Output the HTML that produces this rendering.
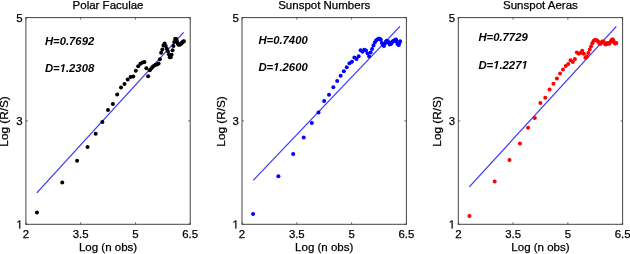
<!DOCTYPE html><html><head><meta charset="utf-8"><style>html,body{margin:0;padding:0;background:#fff;overflow:hidden}svg{display:block;will-change:transform}text{font-family:"Liberation Sans",sans-serif;stroke:#000;stroke-width:0.25px}</style></head><body>
<svg width="630" height="254" viewBox="0 0 630 254">
<rect width="630" height="254" fill="#fff"/>
<line x1="36.8" y1="192.8" x2="183.6" y2="32.4" stroke="#3535ff" stroke-width="1.2"/>
<circle cx="36.95" cy="212.60" r="2.0" fill="#000"/>
<circle cx="62.26" cy="182.60" r="2.0" fill="#000"/>
<circle cx="77.06" cy="160.80" r="2.0" fill="#000"/>
<circle cx="87.56" cy="147.00" r="2.0" fill="#000"/>
<circle cx="95.71" cy="133.80" r="2.0" fill="#000"/>
<circle cx="102.37" cy="122.10" r="2.0" fill="#000"/>
<circle cx="108.00" cy="110.10" r="2.0" fill="#000"/>
<circle cx="112.87" cy="104.10" r="2.0" fill="#000"/>
<circle cx="117.17" cy="94.50" r="2.0" fill="#000"/>
<circle cx="121.02" cy="87.60" r="2.0" fill="#000"/>
<circle cx="124.50" cy="83.90" r="2.0" fill="#000"/>
<circle cx="127.67" cy="79.50" r="2.0" fill="#000"/>
<circle cx="130.60" cy="76.90" r="2.0" fill="#000"/>
<circle cx="133.30" cy="76.40" r="2.0" fill="#000"/>
<circle cx="135.82" cy="70.80" r="2.0" fill="#000"/>
<circle cx="138.18" cy="66.20" r="2.0" fill="#000"/>
<circle cx="140.39" cy="63.70" r="2.0" fill="#000"/>
<circle cx="142.48" cy="62.50" r="2.0" fill="#000"/>
<circle cx="144.45" cy="62.00" r="2.0" fill="#000"/>
<circle cx="146.33" cy="68.20" r="2.0" fill="#000"/>
<circle cx="148.11" cy="76.30" r="2.0" fill="#000"/>
<circle cx="149.81" cy="70.20" r="2.0" fill="#000"/>
<circle cx="151.43" cy="68.20" r="2.0" fill="#000"/>
<circle cx="152.98" cy="66.40" r="2.0" fill="#000"/>
<circle cx="154.47" cy="65.40" r="2.0" fill="#000"/>
<circle cx="155.90" cy="64.70" r="2.0" fill="#000"/>
<circle cx="157.28" cy="64.20" r="2.0" fill="#000"/>
<circle cx="158.61" cy="63.40" r="2.0" fill="#000"/>
<circle cx="159.89" cy="59.30" r="2.0" fill="#000"/>
<circle cx="161.13" cy="52.80" r="2.0" fill="#000"/>
<circle cx="162.33" cy="49.60" r="2.0" fill="#000"/>
<circle cx="163.49" cy="45.40" r="2.0" fill="#000"/>
<circle cx="164.61" cy="43.40" r="2.0" fill="#000"/>
<circle cx="165.70" cy="45.90" r="2.0" fill="#000"/>
<circle cx="166.76" cy="48.80" r="2.0" fill="#000"/>
<circle cx="167.79" cy="51.30" r="2.0" fill="#000"/>
<circle cx="168.79" cy="54.20" r="2.0" fill="#000"/>
<circle cx="169.76" cy="57.20" r="2.0" fill="#000"/>
<circle cx="170.71" cy="57.20" r="2.0" fill="#000"/>
<circle cx="171.63" cy="54.70" r="2.0" fill="#000"/>
<circle cx="172.53" cy="50.30" r="2.0" fill="#000"/>
<circle cx="173.41" cy="45.90" r="2.0" fill="#000"/>
<circle cx="174.27" cy="41.90" r="2.0" fill="#000"/>
<circle cx="175.11" cy="39.00" r="2.0" fill="#000"/>
<circle cx="175.93" cy="38.70" r="2.0" fill="#000"/>
<circle cx="176.74" cy="40.60" r="2.0" fill="#000"/>
<circle cx="177.52" cy="43.00" r="2.0" fill="#000"/>
<circle cx="178.29" cy="44.50" r="2.0" fill="#000"/>
<circle cx="179.04" cy="44.80" r="2.0" fill="#000"/>
<circle cx="179.78" cy="44.60" r="2.0" fill="#000"/>
<circle cx="180.50" cy="44.20" r="2.0" fill="#000"/>
<circle cx="181.21" cy="43.60" r="2.0" fill="#000"/>
<circle cx="181.91" cy="42.80" r="2.0" fill="#000"/>
<circle cx="182.59" cy="42.20" r="2.0" fill="#000"/>
<circle cx="183.26" cy="41.60" r="2.0" fill="#000"/>
<circle cx="183.92" cy="41.20" r="2.0" fill="#000"/>
<rect x="25.9" y="17.6" width="164.3" height="206.7" fill="none" stroke="#444" stroke-width="1"/>
<line x1="25.90" y1="224.3" x2="25.90" y2="222.3" stroke="#444" stroke-width="0.8"/>
<line x1="25.90" y1="17.6" x2="25.90" y2="19.6" stroke="#444" stroke-width="0.8"/>
<line x1="80.67" y1="224.3" x2="80.67" y2="222.3" stroke="#444" stroke-width="0.8"/>
<line x1="80.67" y1="17.6" x2="80.67" y2="19.6" stroke="#444" stroke-width="0.8"/>
<line x1="135.43" y1="224.3" x2="135.43" y2="222.3" stroke="#444" stroke-width="0.8"/>
<line x1="135.43" y1="17.6" x2="135.43" y2="19.6" stroke="#444" stroke-width="0.8"/>
<line x1="190.20" y1="224.3" x2="190.20" y2="222.3" stroke="#444" stroke-width="0.8"/>
<line x1="190.20" y1="17.6" x2="190.20" y2="19.6" stroke="#444" stroke-width="0.8"/>
<line x1="25.9" y1="224.30" x2="27.9" y2="224.30" stroke="#444" stroke-width="0.8"/>
<line x1="190.2" y1="224.30" x2="188.2" y2="224.30" stroke="#444" stroke-width="0.8"/>
<line x1="25.9" y1="120.95" x2="27.9" y2="120.95" stroke="#444" stroke-width="0.8"/>
<line x1="190.2" y1="120.95" x2="188.2" y2="120.95" stroke="#444" stroke-width="0.8"/>
<line x1="25.9" y1="17.60" x2="27.9" y2="17.60" stroke="#444" stroke-width="0.8"/>
<line x1="190.2" y1="17.60" x2="188.2" y2="17.60" stroke="#444" stroke-width="0.8"/>
<text x="25.90" y="238.4" font-size="11.4" text-anchor="middle">2</text>
<text x="80.67" y="238.4" font-size="11.4" text-anchor="middle">3.5</text>
<text x="135.43" y="238.4" font-size="11.4" text-anchor="middle">5</text>
<text x="190.20" y="238.4" font-size="11.4" text-anchor="middle">6.5</text>
<text x="22.70" y="124.6" font-size="11.4" text-anchor="end">3</text>
<text x="22.70" y="21.6" font-size="11.4" text-anchor="end">5</text>
<path d="M19.23,228.40 L19.23,221.51 L17.46,222.78 L17.46,221.83 L19.31,220.56 L20.23,220.56 L20.23,228.40Z" fill="#000" stroke="#000" stroke-width="0.25"/>
<text x="108.05" y="8.7" font-size="11.5" text-anchor="middle">Polar Faculae</text>
<text x="108.05" y="251.3" font-size="11.5" text-anchor="middle">Log (n obs)</text>
<text x="0" y="0" font-size="11.8" text-anchor="middle" transform="translate(8.40,121.45) rotate(-90)">Log (R/S)</text>
<text x="44.9" y="45.0" font-size="11.3" font-weight="bold" font-style="italic" style="stroke-width:0">H=0.7692</text>
<text x="44.9" y="72.0" font-size="11.3" font-weight="bold" font-style="italic" style="stroke-width:0">D= .2308</text>
<path d="M61.76,72.00 L62.99,65.64 L60.89,66.82 L61.15,65.49 L63.33,64.23 L64.82,64.23 L63.31,72.00Z" fill="#000" />
<line x1="253.2" y1="180.3" x2="400.0" y2="26.3" stroke="#3535ff" stroke-width="1.2"/>
<circle cx="253.05" cy="213.90" r="2.0" fill="#0000ff"/>
<circle cx="278.38" cy="176.30" r="2.0" fill="#0000ff"/>
<circle cx="293.19" cy="154.10" r="2.0" fill="#0000ff"/>
<circle cx="303.70" cy="137.40" r="2.0" fill="#0000ff"/>
<circle cx="311.85" cy="122.90" r="2.0" fill="#0000ff"/>
<circle cx="318.51" cy="112.50" r="2.0" fill="#0000ff"/>
<circle cx="324.15" cy="101.00" r="2.0" fill="#0000ff"/>
<circle cx="329.02" cy="94.80" r="2.0" fill="#0000ff"/>
<circle cx="333.33" cy="87.20" r="2.0" fill="#0000ff"/>
<circle cx="337.18" cy="80.90" r="2.0" fill="#0000ff"/>
<circle cx="340.66" cy="75.70" r="2.0" fill="#0000ff"/>
<circle cx="343.84" cy="71.20" r="2.0" fill="#0000ff"/>
<circle cx="346.76" cy="67.30" r="2.0" fill="#0000ff"/>
<circle cx="349.47" cy="63.20" r="2.0" fill="#0000ff"/>
<circle cx="351.99" cy="61.80" r="2.0" fill="#0000ff"/>
<circle cx="354.35" cy="57.60" r="2.0" fill="#0000ff"/>
<circle cx="356.56" cy="59.00" r="2.0" fill="#0000ff"/>
<circle cx="358.65" cy="56.30" r="2.0" fill="#0000ff"/>
<circle cx="360.62" cy="50.20" r="2.0" fill="#0000ff"/>
<circle cx="362.50" cy="51.80" r="2.0" fill="#0000ff"/>
<circle cx="364.28" cy="49.80" r="2.0" fill="#0000ff"/>
<circle cx="365.98" cy="50.50" r="2.0" fill="#0000ff"/>
<circle cx="367.60" cy="53.50" r="2.0" fill="#0000ff"/>
<circle cx="369.16" cy="56.50" r="2.0" fill="#0000ff"/>
<circle cx="370.65" cy="52.60" r="2.0" fill="#0000ff"/>
<circle cx="372.08" cy="49.00" r="2.0" fill="#0000ff"/>
<circle cx="373.46" cy="45.50" r="2.0" fill="#0000ff"/>
<circle cx="374.79" cy="42.50" r="2.0" fill="#0000ff"/>
<circle cx="376.07" cy="40.50" r="2.0" fill="#0000ff"/>
<circle cx="377.31" cy="39.40" r="2.0" fill="#0000ff"/>
<circle cx="378.51" cy="38.80" r="2.0" fill="#0000ff"/>
<circle cx="379.67" cy="38.70" r="2.0" fill="#0000ff"/>
<circle cx="380.79" cy="39.80" r="2.0" fill="#0000ff"/>
<circle cx="381.88" cy="43.00" r="2.0" fill="#0000ff"/>
<circle cx="382.94" cy="45.00" r="2.0" fill="#0000ff"/>
<circle cx="383.97" cy="46.00" r="2.0" fill="#0000ff"/>
<circle cx="384.97" cy="43.50" r="2.0" fill="#0000ff"/>
<circle cx="385.95" cy="41.50" r="2.0" fill="#0000ff"/>
<circle cx="386.90" cy="40.70" r="2.0" fill="#0000ff"/>
<circle cx="387.82" cy="41.20" r="2.0" fill="#0000ff"/>
<circle cx="388.72" cy="42.50" r="2.0" fill="#0000ff"/>
<circle cx="389.60" cy="44.40" r="2.0" fill="#0000ff"/>
<circle cx="390.46" cy="44.00" r="2.0" fill="#0000ff"/>
<circle cx="391.30" cy="43.40" r="2.0" fill="#0000ff"/>
<circle cx="392.12" cy="42.00" r="2.0" fill="#0000ff"/>
<circle cx="392.93" cy="41.20" r="2.0" fill="#0000ff"/>
<circle cx="393.71" cy="41.10" r="2.0" fill="#0000ff"/>
<circle cx="394.48" cy="40.40" r="2.0" fill="#0000ff"/>
<circle cx="395.24" cy="39.80" r="2.0" fill="#0000ff"/>
<circle cx="395.97" cy="39.60" r="2.0" fill="#0000ff"/>
<circle cx="396.70" cy="41.50" r="2.0" fill="#0000ff"/>
<circle cx="397.41" cy="43.80" r="2.0" fill="#0000ff"/>
<circle cx="398.10" cy="44.60" r="2.0" fill="#0000ff"/>
<circle cx="398.79" cy="45.00" r="2.0" fill="#0000ff"/>
<circle cx="399.46" cy="43.00" r="2.0" fill="#0000ff"/>
<circle cx="400.11" cy="41.20" r="2.0" fill="#0000ff"/>
<rect x="242.0" y="17.6" width="164.4" height="206.7" fill="none" stroke="#444" stroke-width="1"/>
<line x1="242.00" y1="224.3" x2="242.00" y2="222.3" stroke="#444" stroke-width="0.8"/>
<line x1="242.00" y1="17.6" x2="242.00" y2="19.6" stroke="#444" stroke-width="0.8"/>
<line x1="296.80" y1="224.3" x2="296.80" y2="222.3" stroke="#444" stroke-width="0.8"/>
<line x1="296.80" y1="17.6" x2="296.80" y2="19.6" stroke="#444" stroke-width="0.8"/>
<line x1="351.60" y1="224.3" x2="351.60" y2="222.3" stroke="#444" stroke-width="0.8"/>
<line x1="351.60" y1="17.6" x2="351.60" y2="19.6" stroke="#444" stroke-width="0.8"/>
<line x1="406.40" y1="224.3" x2="406.40" y2="222.3" stroke="#444" stroke-width="0.8"/>
<line x1="406.40" y1="17.6" x2="406.40" y2="19.6" stroke="#444" stroke-width="0.8"/>
<line x1="242.0" y1="224.30" x2="244.0" y2="224.30" stroke="#444" stroke-width="0.8"/>
<line x1="406.4" y1="224.30" x2="404.4" y2="224.30" stroke="#444" stroke-width="0.8"/>
<line x1="242.0" y1="120.95" x2="244.0" y2="120.95" stroke="#444" stroke-width="0.8"/>
<line x1="406.4" y1="120.95" x2="404.4" y2="120.95" stroke="#444" stroke-width="0.8"/>
<line x1="242.0" y1="17.60" x2="244.0" y2="17.60" stroke="#444" stroke-width="0.8"/>
<line x1="406.4" y1="17.60" x2="404.4" y2="17.60" stroke="#444" stroke-width="0.8"/>
<text x="242.00" y="238.4" font-size="11.4" text-anchor="middle">2</text>
<text x="296.80" y="238.4" font-size="11.4" text-anchor="middle">3.5</text>
<text x="351.60" y="238.4" font-size="11.4" text-anchor="middle">5</text>
<text x="406.40" y="238.4" font-size="11.4" text-anchor="middle">6.5</text>
<text x="238.80" y="124.6" font-size="11.4" text-anchor="end">3</text>
<text x="238.80" y="21.6" font-size="11.4" text-anchor="end">5</text>
<path d="M235.33,228.40 L235.33,221.51 L233.56,222.78 L233.56,221.83 L235.41,220.56 L236.33,220.56 L236.33,228.40Z" fill="#000" stroke="#000" stroke-width="0.25"/>
<text x="324.20" y="8.7" font-size="11.5" text-anchor="middle">Sunspot Numbers</text>
<text x="324.20" y="251.3" font-size="11.5" text-anchor="middle">Log (n obs)</text>
<text x="0" y="0" font-size="11.8" text-anchor="middle" transform="translate(224.50,121.45) rotate(-90)">Log (R/S)</text>
<text x="258.4" y="43.6" font-size="11.3" font-weight="bold" font-style="italic" style="stroke-width:0">H=0.7400</text>
<text x="258.4" y="70.8" font-size="11.3" font-weight="bold" font-style="italic" style="stroke-width:0">D= .2600</text>
<path d="M275.26,70.80 L276.49,64.44 L274.39,65.62 L274.65,64.29 L276.83,63.03 L278.32,63.03 L276.81,70.80Z" fill="#000" />
<line x1="469.3" y1="186.9" x2="616.4" y2="26.3" stroke="#3535ff" stroke-width="1.2"/>
<circle cx="469.35" cy="216.10" r="2.0" fill="#ff0000"/>
<circle cx="494.66" cy="181.50" r="2.0" fill="#ff0000"/>
<circle cx="509.46" cy="160.10" r="2.0" fill="#ff0000"/>
<circle cx="519.96" cy="143.50" r="2.0" fill="#ff0000"/>
<circle cx="528.11" cy="127.80" r="2.0" fill="#ff0000"/>
<circle cx="534.77" cy="117.90" r="2.0" fill="#ff0000"/>
<circle cx="540.40" cy="102.90" r="2.0" fill="#ff0000"/>
<circle cx="545.27" cy="97.80" r="2.0" fill="#ff0000"/>
<circle cx="549.57" cy="89.50" r="2.0" fill="#ff0000"/>
<circle cx="553.42" cy="83.80" r="2.0" fill="#ff0000"/>
<circle cx="556.90" cy="78.50" r="2.0" fill="#ff0000"/>
<circle cx="560.07" cy="73.40" r="2.0" fill="#ff0000"/>
<circle cx="563.00" cy="69.40" r="2.0" fill="#ff0000"/>
<circle cx="565.70" cy="65.90" r="2.0" fill="#ff0000"/>
<circle cx="568.22" cy="64.00" r="2.0" fill="#ff0000"/>
<circle cx="570.58" cy="60.20" r="2.0" fill="#ff0000"/>
<circle cx="572.79" cy="62.10" r="2.0" fill="#ff0000"/>
<circle cx="574.88" cy="59.00" r="2.0" fill="#ff0000"/>
<circle cx="576.85" cy="52.50" r="2.0" fill="#ff0000"/>
<circle cx="578.73" cy="53.80" r="2.0" fill="#ff0000"/>
<circle cx="580.51" cy="53.00" r="2.0" fill="#ff0000"/>
<circle cx="582.21" cy="50.70" r="2.0" fill="#ff0000"/>
<circle cx="583.83" cy="53.80" r="2.0" fill="#ff0000"/>
<circle cx="585.38" cy="57.80" r="2.0" fill="#ff0000"/>
<circle cx="586.87" cy="56.50" r="2.0" fill="#ff0000"/>
<circle cx="588.30" cy="53.00" r="2.0" fill="#ff0000"/>
<circle cx="589.68" cy="49.60" r="2.0" fill="#ff0000"/>
<circle cx="591.01" cy="46.50" r="2.0" fill="#ff0000"/>
<circle cx="592.29" cy="43.30" r="2.0" fill="#ff0000"/>
<circle cx="593.53" cy="41.00" r="2.0" fill="#ff0000"/>
<circle cx="594.73" cy="40.00" r="2.0" fill="#ff0000"/>
<circle cx="595.89" cy="39.90" r="2.0" fill="#ff0000"/>
<circle cx="597.01" cy="40.60" r="2.0" fill="#ff0000"/>
<circle cx="598.10" cy="41.60" r="2.0" fill="#ff0000"/>
<circle cx="599.16" cy="43.00" r="2.0" fill="#ff0000"/>
<circle cx="600.19" cy="44.00" r="2.0" fill="#ff0000"/>
<circle cx="601.19" cy="43.00" r="2.0" fill="#ff0000"/>
<circle cx="602.16" cy="41.50" r="2.0" fill="#ff0000"/>
<circle cx="603.11" cy="41.50" r="2.0" fill="#ff0000"/>
<circle cx="604.03" cy="42.20" r="2.0" fill="#ff0000"/>
<circle cx="604.93" cy="43.80" r="2.0" fill="#ff0000"/>
<circle cx="605.81" cy="44.60" r="2.0" fill="#ff0000"/>
<circle cx="606.67" cy="44.00" r="2.0" fill="#ff0000"/>
<circle cx="607.51" cy="43.00" r="2.0" fill="#ff0000"/>
<circle cx="608.33" cy="43.60" r="2.0" fill="#ff0000"/>
<circle cx="609.14" cy="43.80" r="2.0" fill="#ff0000"/>
<circle cx="609.92" cy="42.80" r="2.0" fill="#ff0000"/>
<circle cx="610.69" cy="41.40" r="2.0" fill="#ff0000"/>
<circle cx="611.44" cy="40.20" r="2.0" fill="#ff0000"/>
<circle cx="612.18" cy="39.50" r="2.0" fill="#ff0000"/>
<circle cx="612.90" cy="39.60" r="2.0" fill="#ff0000"/>
<circle cx="613.61" cy="41.20" r="2.0" fill="#ff0000"/>
<circle cx="614.31" cy="42.60" r="2.0" fill="#ff0000"/>
<circle cx="614.99" cy="43.40" r="2.0" fill="#ff0000"/>
<circle cx="615.66" cy="43.20" r="2.0" fill="#ff0000"/>
<circle cx="616.32" cy="43.00" r="2.0" fill="#ff0000"/>
<rect x="458.3" y="17.6" width="164.3" height="206.7" fill="none" stroke="#444" stroke-width="1"/>
<line x1="458.30" y1="224.3" x2="458.30" y2="222.3" stroke="#444" stroke-width="0.8"/>
<line x1="458.30" y1="17.6" x2="458.30" y2="19.6" stroke="#444" stroke-width="0.8"/>
<line x1="513.07" y1="224.3" x2="513.07" y2="222.3" stroke="#444" stroke-width="0.8"/>
<line x1="513.07" y1="17.6" x2="513.07" y2="19.6" stroke="#444" stroke-width="0.8"/>
<line x1="567.83" y1="224.3" x2="567.83" y2="222.3" stroke="#444" stroke-width="0.8"/>
<line x1="567.83" y1="17.6" x2="567.83" y2="19.6" stroke="#444" stroke-width="0.8"/>
<line x1="622.60" y1="224.3" x2="622.60" y2="222.3" stroke="#444" stroke-width="0.8"/>
<line x1="622.60" y1="17.6" x2="622.60" y2="19.6" stroke="#444" stroke-width="0.8"/>
<line x1="458.3" y1="224.30" x2="460.3" y2="224.30" stroke="#444" stroke-width="0.8"/>
<line x1="622.6" y1="224.30" x2="620.6" y2="224.30" stroke="#444" stroke-width="0.8"/>
<line x1="458.3" y1="120.95" x2="460.3" y2="120.95" stroke="#444" stroke-width="0.8"/>
<line x1="622.6" y1="120.95" x2="620.6" y2="120.95" stroke="#444" stroke-width="0.8"/>
<line x1="458.3" y1="17.60" x2="460.3" y2="17.60" stroke="#444" stroke-width="0.8"/>
<line x1="622.6" y1="17.60" x2="620.6" y2="17.60" stroke="#444" stroke-width="0.8"/>
<text x="458.30" y="238.4" font-size="11.4" text-anchor="middle">2</text>
<text x="513.07" y="238.4" font-size="11.4" text-anchor="middle">3.5</text>
<text x="567.83" y="238.4" font-size="11.4" text-anchor="middle">5</text>
<text x="622.60" y="238.4" font-size="11.4" text-anchor="middle">6.5</text>
<text x="455.10" y="124.6" font-size="11.4" text-anchor="end">3</text>
<text x="455.10" y="21.6" font-size="11.4" text-anchor="end">5</text>
<path d="M451.63,228.40 L451.63,221.51 L449.86,222.78 L449.86,221.83 L451.71,220.56 L452.63,220.56 L452.63,228.40Z" fill="#000" stroke="#000" stroke-width="0.25"/>
<text x="540.45" y="8.7" font-size="11.5" text-anchor="middle">Sunspot Aeras</text>
<text x="540.45" y="251.3" font-size="11.5" text-anchor="middle">Log (n obs)</text>
<text x="0" y="0" font-size="11.8" text-anchor="middle" transform="translate(440.80,121.45) rotate(-90)">Log (R/S)</text>
<text x="478.4" y="41.3" font-size="11.3" font-weight="bold" font-style="italic" style="stroke-width:0">H=0.7729</text>
<text x="478.4" y="68.8" font-size="11.3" font-weight="bold" font-style="italic" style="stroke-width:0">D= .227 </text>
<path d="M495.26,68.80 L496.49,62.44 L494.39,63.62 L494.65,62.29 L496.83,61.03 L498.32,61.03 L496.81,68.80Z" fill="#000" />
<path d="M523.53,68.80 L524.77,62.44 L522.67,63.62 L522.93,62.29 L525.11,61.03 L526.60,61.03 L525.08,68.80Z" fill="#000" />
</svg></body></html>
